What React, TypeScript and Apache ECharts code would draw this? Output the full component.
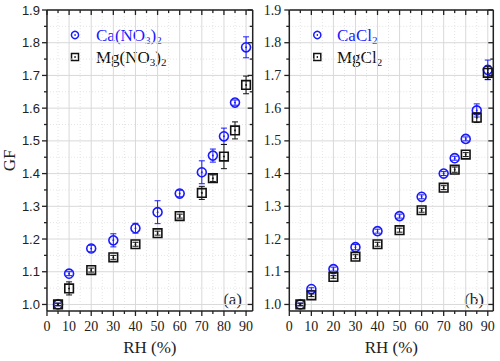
import React, { useEffect, useRef } from "react";
import * as echarts from "echarts";

const rh = [5, 10, 20, 30, 40, 50, 60, 70, 75, 80, 85, 90];
const caNO3 = [1.0, 1.094, 1.171, 1.196, 1.233, 1.282, 1.339, 1.404, 1.455, 1.514, 1.617, 1.786];
const caNO3Err = [0.004, 0.006, 0.01, 0.02, 0.015, 0.035, 0.01, 0.035, 0.02, 0.025, 0.008, 0.032];
const mgNO3 = [1.0, 1.049, 1.105, 1.144, 1.184, 1.218, 1.27, 1.341, 1.386, 1.452, 1.532, 1.671];
const mgNO3Err = [0.004, 0.02, 0.006, 0.006, 0.006, 0.006, 0.006, 0.02, 0.01, 0.037, 0.026, 0.027];
const caCl2 = [1.0, 1.047, 1.108, 1.175, 1.224, 1.27, 1.329, 1.4, 1.447, 1.506, 1.593, 1.717];
const caCl2Err = [0.004, 0.004, 0.006, 0.008, 0.006, 0.006, 0.006, 0.006, 0.006, 0.006, 0.02, 0.03];
const mgCl2 = [1.0, 1.028, 1.084, 1.146, 1.184, 1.227, 1.288, 1.357, 1.412, 1.458, 1.571, 1.708];
const mgCl2Err = [0.004, 0.004, 0.004, 0.006, 0.006, 0.006, 0.006, 0.006, 0.008, 0.006, 0.015, 0.02];

const xTicks = [0, 10, 20, 30, 40, 50, 60, 70, 80, 90];
const xMinorTicks = [5, 15, 25, 35, 45, 55, 65, 75, 85];
const yTicks = [1.0, 1.1, 1.2, 1.3, 1.4, 1.5, 1.6, 1.7, 1.8, 1.9];
const yMinorTicks = [1.05, 1.15, 1.25, 1.35, 1.45, 1.55, 1.65, 1.75, 1.85];

const X_MAX = [93, 92.5];
const Y_MIN = 0.98;
const Y_MAX = 1.9;

const BLUE = "#1a1aff";
const BLACK = "#111";
const SERIF = "Liberation Serif";
const SANS = "Liberation Sans";

function frameRenderer(g: number) {
  return (params: any, api: any) => {
    const xMax = X_MAX[g];
    const children: any[] = [];
    const line = (x1: number, y1: number, x2: number, y2: number, style: any) =>
      children.push({ type: "line", shape: { x1, y1, x2, y2 }, style, silent: true });
    const major = { stroke: "#d9d9d9", lineWidth: 1 };
    const minor = { stroke: "#e4e4e4", lineWidth: 1, lineDash: [1, 2] };
    const ax = { stroke: "#222", lineWidth: 1.5 };
    const [, yb] = api.coord([0, Y_MIN]);
    const [, yt] = api.coord([0, Y_MAX]);
    const [xl] = api.coord([0, Y_MIN]);
    const [xr] = api.coord([xMax, Y_MIN]);
    xMinorTicks.forEach((v) => {
      const [x] = api.coord([v, Y_MIN]);
      line(x, yb, x, yt, minor);
    });
    yMinorTicks.forEach((v) => {
      const [, y] = api.coord([0, v]);
      line(xl, y, xr, y, minor);
    });
    xTicks.forEach((v) => {
      const [x] = api.coord([v, Y_MIN]);
      if (v > 0) line(x, yb, x, yt, major);
    });
    yTicks.forEach((v) => {
      const [, y] = api.coord([0, v]);
      line(xl, y, xr, y, major);
    });
    const tk = { stroke: "#222", lineWidth: 1.3 };
    xTicks.forEach((v) => {
      const [x] = api.coord([v, Y_MIN]);
      line(x, yb, x, yb + 5, tk);
      line(x, yt, x, yt + 5, tk);
    });
    xMinorTicks.forEach((v) => {
      const [x] = api.coord([v, Y_MIN]);
      line(x, yb, x, yb + 3, tk);
      line(x, yt, x, yt + 3, tk);
    });
    yTicks.forEach((v) => {
      const [, y] = api.coord([0, v]);
      line(xl, y, xl - 5, y, tk);
      line(xr, y, xr - 5, y, tk);
    });
    yMinorTicks.forEach((v) => {
      const [, y] = api.coord([0, v]);
      line(xl, y, xl - 3, y, tk);
      line(xr, y, xr - 3, y, tk);
    });
    line(xl, yb, xr, yb, ax);
    line(xl, yt, xr, yt, ax);
    line(xl, yb, xl, yt, ax);
    line(xr, yb, xr, yt, ax);
    return { type: "group", children };
  };
}

function pointRenderer(kind: "circle" | "square", color: string) {
  return (params: any, api: any) => {
    const x = api.value(0);
    const y = api.value(1);
    const e = api.value(2);
    const [px, py] = api.coord([x, y]);
    const [, pTop] = api.coord([x, y + e]);
    const [, pBot] = api.coord([x, y - e]);
    const st = { stroke: color, lineWidth: 1 };
    const children: any[] = [
      { type: "line", shape: { x1: px, y1: pTop, x2: px, y2: pBot }, style: st },
      { type: "line", shape: { x1: px - 3, y1: pTop, x2: px + 3, y2: pTop }, style: st },
      { type: "line", shape: { x1: px - 3, y1: pBot, x2: px + 3, y2: pBot }, style: st },
    ];
    if (kind === "circle") {
      children.push({
        type: "circle",
        shape: { cx: px, cy: py, r: 4.5 },
        style: { fill: "rgba(255,255,255,0)", stroke: color, lineWidth: 1.6 },
      });
    } else {
      children.push({
        type: "rect",
        shape: { x: px - 4.3, y: py - 4.3, width: 8.6, height: 8.6 },
        style: { fill: "rgba(255,255,255,0)", stroke: color, lineWidth: 1.6 },
      });
    }
    children.push({
      type: "circle",
      shape: { cx: px, cy: py, r: 0.9 },
      style: { fill: color },
    });
    return { type: "group", children };
  };
}

function mkData(ys: number[], errs: number[]) {
  return rh.map((x, i) => [x, ys[i], errs[i]]);
}

const richStyle = (color: string) => ({
  a: { fontFamily: SERIF, fontSize: 17, fill: color, lineHeight: 20, verticalAlign: "middle" },
  s: { fontFamily: SERIF, fontSize: 11, fill: color, lineHeight: 20, verticalAlign: "bottom", padding: [6, 0, 0, 0] },
});

export default function App() {
  const ref = useRef<HTMLDivElement>(null);
  useEffect(() => {
    if (!ref.current) return;
    const chart = echarts.init(ref.current, null, { renderer: "svg" });
    const grids = [
      { left: 46.7, top: 10, width: 206, height: 301.7 },
      { left: 289.3, top: 10, width: 204, height: 301.7 },
    ];
    const xAxis = [0, 1].map((g) => ({
      type: "value",
      gridIndex: g,
      min: 0,
      max: X_MAX[g],
      axisLine: { show: false },
      axisTick: { show: false },
      splitLine: { show: false },
      axisLabel: {
        customValues: xTicks,
        fontFamily: SERIF,
        fontSize: 14,
        color: "#222",
        margin: 8,
      },
      name: "RH (%)",
      nameLocation: "middle",
      nameGap: 28,
      nameTextStyle: { fontFamily: SERIF, fontSize: 17, color: "#222" },
    }));
    const yAxis = [0, 1].map((g) => ({
      type: "value",
      gridIndex: g,
      min: Y_MIN,
      max: Y_MAX,
      axisLine: { show: false },
      axisTick: { show: false },
      splitLine: { show: false },
      axisLabel: {
        customValues: yTicks,
        formatter: (v: number) => v.toFixed(1),
        fontFamily: g === 0 ? SANS : SERIF,
        fontSize: g === 0 ? 13 : 14,
        color: "#222",
        margin: g === 0 ? 7 : 8,
      },
      name: g === 0 ? "GF" : "",
      nameLocation: "middle",
      nameGap: 28,
      nameTextStyle: { fontFamily: SERIF, fontSize: 17, color: "#222" },
    }));
    const series: any[] = [];
    [0, 1].forEach((g) => {
      series.push({
        type: "custom",
        xAxisIndex: g,
        yAxisIndex: g,
        data: [[0, 1]],
        renderItem: frameRenderer(g),
        silent: true,
        z: 1,
      });
    });
    const sets: [number, "circle" | "square", string, number[], number[], number][] = [
      [0, "circle", BLUE, caNO3, caNO3Err, 2],
      [0, "square", BLACK, mgNO3, mgNO3Err, 3],
      [1, "circle", BLUE, caCl2, caCl2Err, 2],
      [1, "square", BLACK, mgCl2, mgCl2Err, 3],
    ];
    sets.forEach(([g, kind, color, ys, errs, z]) => {
      series.push({
        type: "custom",
        xAxisIndex: g,
        yAxisIndex: g,
        data: mkData(ys, errs),
        encode: { x: 0, y: 1 },
        renderItem: pointRenderer(kind, color),
        z,
      });
    });
    const legendItems = (sx: number, tx: number, t1: string, t2: string) => [
      { type: "circle", shape: { cx: sx, cy: 35, r: 3.6 }, style: { fill: "none", stroke: BLUE, lineWidth: 1.5 } },
      { type: "circle", shape: { cx: sx, cy: 35, r: 0.8 }, style: { fill: BLUE } },
      { type: "rect", shape: { x: sx - 3.5, y: 53.5, width: 7, height: 7 }, style: { fill: "none", stroke: BLACK, lineWidth: 1.5 } },
      { type: "circle", shape: { cx: sx, cy: 57, r: 0.8 }, style: { fill: BLACK } },
      { type: "text", x: tx, y: 35, style: { text: t1, rich: richStyle(BLUE), verticalAlign: "middle", align: "left" } },
      { type: "text", x: tx, y: 57, style: { text: t2, rich: richStyle(BLACK), verticalAlign: "middle", align: "left" } },
    ];
    chart.setOption({
      animation: false,
      textStyle: { fontFamily: SERIF },
      grid: grids,
      xAxis,
      yAxis,
      series,
      graphic: [
        ...legendItems(75, 96, "{a|Ca(NO}{s|3}{a|)}{s|2}", "{a|Mg(NO}{s|3}{a|)}{s|2}"),
        ...legendItems(317.3, 337, "{a|CaCl}{s|2}", "{a|MgCl}{s|2}"),
        { type: "text", x: 242, y: 299, style: { text: "(a)", font: `17px ${SERIF}`, fill: "#222", align: "right", verticalAlign: "middle" } },
        { type: "text", x: 484, y: 299, style: { text: "(b)", font: `17px ${SERIF}`, fill: "#222", align: "right", verticalAlign: "middle" } },
      ],
    });
    return () => chart.dispose();
  }, []);
  return (
    <div
      ref={ref}
      style={{ position: "fixed", left: 0, top: 0, width: 500, height: 361, background: "#fff" }}
    />
  );
}
